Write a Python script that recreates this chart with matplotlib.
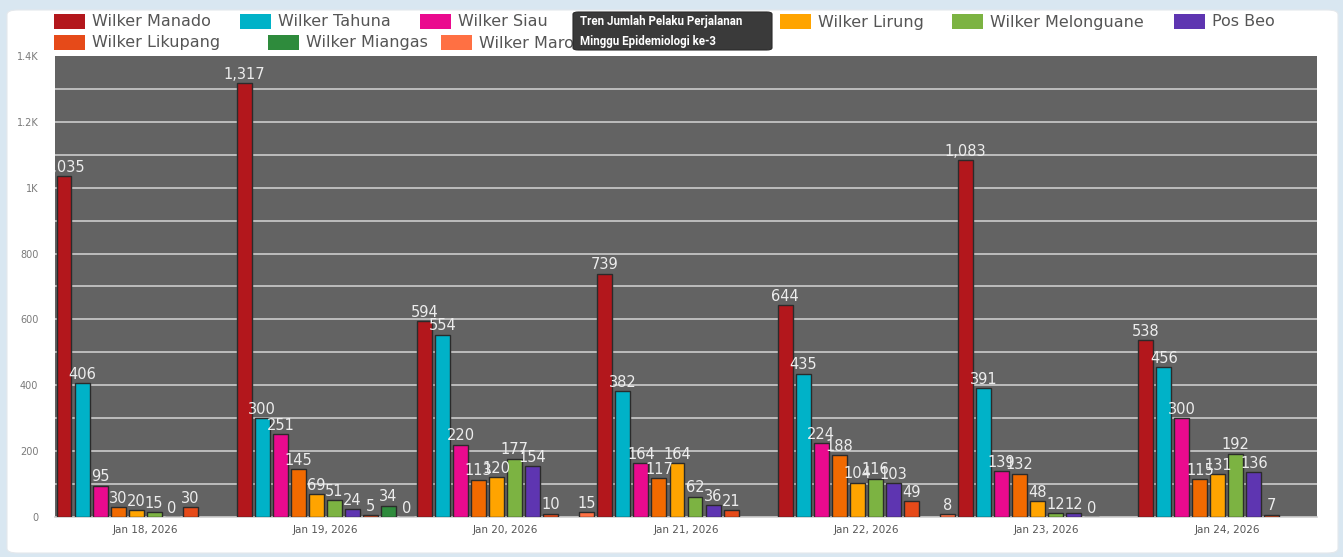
import numpy as np
import matplotlib
matplotlib.use("Agg")
import matplotlib.pyplot as plt
from matplotlib.patches import FancyBboxPatch, Rectangle
from matplotlib.ticker import FixedLocator

# ---------------- data ----------------
dates = ["Jan 18, 2026", "Jan 19, 2026", "Jan 20, 2026", "Jan 21, 2026",
         "Jan 22, 2026", "Jan 23, 2026", "Jan 24, 2026"]
series_names = ["Wilker Manado", "Wilker Tahuna", "Wilker Siau", "Wilker Amurang",
                "Wilker Lirung", "Wilker Melonguane", "Pos Beo",
                "Wilker Likupang", "Wilker Miangas", "Wilker Marore"]
nan = np.nan
manado = [1035, 1317, 594, 739, 644, 1083, 538]
tahuna = [406, 300, 554, 382, 435, 391, 456]
siau = [95, 251, 220, 164, 224, 139, 300]
amurang = [30, 145, 113, 117, 188, 132, 115]
lirung = [20, 69, 120, 164, 104, 48, 131]
melonguane = [15, 51, 177, 62, 116, 12, 192]
pos_beo = [0, 24, 154, 36, 103, 12, 136]
likupang = [30, 5, 10, 21, 49, 0, 7]
miangas = [nan, 34, nan, nan, nan, nan, nan]
marore = [nan, 0, 15, nan, 8, nan, nan]
series_values = [manado, tahuna, siau, amurang, lirung, melonguane, pos_beo,
                 likupang, miangas, marore]
colors = ["#B3171C", "#00B2C8", "#EA0A8E", "#F26A00", "#FFA400", "#7CB342",
          "#5E35B1", "#E64A19", "#2E8B3C", "#FF7043"]
y_ticks = [0, 200, 400, 600, 800, 1000, 1200, 1400]
y_tick_labels = ["0", "200", "400", "600", "800", "1K", "1.2K", "1.4K"]

# ---------------- figure ----------------
W, H = 1343, 557
fig = plt.figure(figsize=(W / 100, H / 100), dpi=100)
fig.patch.set_facecolor("#D9E7F1")

def px(x, y):
    return x / W, 1 - y / H

# white card
card = FancyBboxPatch(px(7, 553), (1338 - 7) / W, (553 - 10) / H,
                      boxstyle="round,pad=0,rounding_size=0.008",
                      transform=fig.transFigure, facecolor="white",
                      edgecolor="#E4E8EC", linewidth=0.8, zorder=-5)
fig.patches.append(card)

ax = fig.add_axes([55 / W, (557 - 517) / H, (1317 - 55) / W, (517 - 56) / H])
ax.set_zorder(1)
ax.set_facecolor("#636363")
ax.set_xlim(-0.5, 6.5)
ax.set_ylim(0, 1400)

for yv in range(100, 1400, 100):
    ax.axhline(yv, color="#C4C4C4", lw=1.3, zorder=1)

n = len(series_values)
slot = 0.1
bw = 0.083
xg = np.arange(len(dates))
for k, (vals, col) in enumerate(zip(series_values, colors)):
    xs = xg + (k - (n - 1) / 2) * slot
    v = np.array(vals, dtype=float)
    mask = ~np.isnan(v)
    ax.bar(xs[mask], v[mask], width=bw, color=col, edgecolor="#2B2B2B",
           linewidth=1.0, zorder=3)
    for x, val in zip(xs[mask], v[mask]):
        t = ax.text(x, val + 4, f"{int(val):,}", ha="center", va="bottom",
                    fontsize=10.5, color="#EDEDED", zorder=5)
        t.set_clip_on(True)

ax.yaxis.set_major_locator(FixedLocator(y_ticks))
ax.set_yticklabels(y_tick_labels)
ax.set_xticks(xg)
ax.set_xticklabels(dates)
ax.tick_params(axis="y", length=0, labelsize=7, labelcolor="#7A7A7A", pad=12)
ax.tick_params(axis="x", length=0, labelsize=7.5, labelcolor="#555555", pad=6)
for s in ["top", "right", "left"]:
    ax.spines[s].set_visible(False)
ax.spines["bottom"].set_color("#D0D0D0")
ax.spines["bottom"].set_linewidth(1.2)

# ---------------- legend (manual) ----------------
legend_pos = [(54, 21), (240, 21), (420, 21), (575, 21), (780, 21), (952, 21),
              (1174, 21), (54, 42), (268, 42), (441, 42)]
for (lx, ly), name, col in zip(legend_pos, series_names, colors):
    fig.patches.append(Rectangle(px(lx, ly + 7.5), 31 / W, 15 / H,
                                 transform=fig.transFigure, facecolor=col,
                                 edgecolor="none", zorder=2))
    fig.text(*px(lx + 38, ly + 1), name, fontsize=11.5, color="#555555",
             va="center", ha="left", zorder=3)

# tooltip overlay
tip = FancyBboxPatch(px(573, 50), (772 - 573) / W, (50 - 12) / H,
                     boxstyle="round,pad=0,rounding_size=0.004",
                     transform=fig.transFigure, facecolor="#3A3A3A",
                     edgecolor="#2A2A2A", linewidth=0.8, zorder=10)
fig.patches.append(tip)
fig.text(*px(580, 22), "Tren Jumlah Pelaku Perjalanan", fontsize=8.3,
         color="white", fontweight="bold", va="center", ha="left", zorder=11,
         family="Roboto")
fig.text(*px(580, 41), "Minggu Epidemiologi ke-3", fontsize=8.3,
         color="white", fontweight="bold", va="center", ha="left", zorder=11,
         family="Roboto")

fig.savefig("out.png", dpi=100, facecolor=fig.get_facecolor())
